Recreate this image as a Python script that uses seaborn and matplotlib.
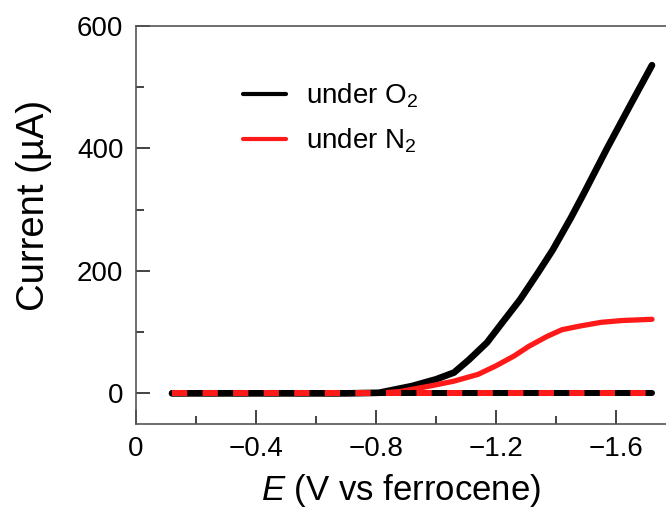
# LSV curves under O2 / N2
import matplotlib
matplotlib.use('Agg')
import matplotlib.pyplot as plt
import seaborn as sns
from matplotlib.ticker import FuncFormatter, MultipleLocator

# data (E in V vs Fc, current in uA)
E_o2 = [-0.12, -0.40, -0.70, -0.81, -0.92, -1.00, -1.06, -1.11, -1.17, -1.22,
        -1.28, -1.34, -1.39, -1.45, -1.49, -1.57, -1.65, -1.72]
I_o2 = [0, 0, 0, 1, 12, 23, 34, 55, 83, 115, 153, 197, 235, 287, 324, 400, 473, 536]

E_n2 = [-0.16, -0.50, -0.80, -0.88, -0.98, -1.06, -1.14, -1.20, -1.26, -1.31,
        -1.37, -1.42, -1.48, -1.55, -1.62, -1.72]
I_n2 = [0, 0, 0, 3, 12, 20, 31, 45, 61, 77, 93, 104, 110, 116, 119, 121]

# flat traces at zero current
E_base = [-0.12, -1.72]
I_base = [0, 0]

labels = ['under O$_2$', 'under N$_2$']

if __name__ == '__main__':
    sns.set_theme(style='ticks')
    plt.rcParams['font.family'] = ['Liberation Sans', 'DejaVu Sans']
    plt.rcParams['mathtext.fontset'] = 'custom'
    plt.rcParams['mathtext.rm'] = 'Liberation Sans'
    plt.rcParams['mathtext.it'] = 'Liberation Sans:italic'
    plt.rcParams['lines.scale_dashes'] = False
    plt.rcParams['text.color'] = 'black'
    plt.rcParams['axes.labelcolor'] = 'black'
    plt.rcParams['xtick.labelcolor'] = 'black'
    plt.rcParams['ytick.labelcolor'] = 'black'

    fig = plt.figure(figsize=(6.66, 5.23), dpi=100)
    ax = fig.add_axes([136 / 666, 1 - 424 / 523, 1 - 136 / 666, (424 - 26) / 523])

    sns.lineplot(x=E_o2, y=I_o2, color='black', lw=4.8, sort=False, label=labels[0], ax=ax)
    sns.lineplot(x=E_n2, y=I_n2, color='#ff1a1a', lw=3.8, sort=False, label=labels[1], ax=ax)
    # dashed baselines, red and black alternating
    sns.lineplot(x=E_base, y=I_base, color='black', lw=4.3, sort=False, legend=False, ax=ax)
    line_r = sns.lineplot(x=E_base, y=I_base, color='#ff1a1a', lw=4.3, sort=False,
                          legend=False, ax=ax).lines[-1]
    line_r.set_dashes((11, 11))
    line_r.set_solid_capstyle('butt')

    ax.set_xlim(0, -(666 - 136) / 300)
    ax.set_ylim(-50, 600)

    ax.xaxis.set_major_locator(MultipleLocator(0.4))
    ax.xaxis.set_minor_locator(MultipleLocator(0.2))
    ax.yaxis.set_major_locator(MultipleLocator(200))
    ax.yaxis.set_minor_locator(MultipleLocator(100))
    ax.xaxis.set_major_formatter(FuncFormatter(
        lambda v, p: '0' if abs(v) < 1e-9 else f'{v:.1f}'.replace('-', '\u2212')))

    spine_col = '#555555'
    for s in ['left', 'bottom', 'top']:
        ax.spines[s].set_color(spine_col)
        ax.spines[s].set_linewidth(1.2)
    ax.spines['right'].set_visible(False)

    ax.tick_params(which='both', direction='in', color='#222222', width=1.2,
                   labelsize=20, top=False, right=False)
    ax.tick_params(axis='y', which='major', length=10, pad=9)
    ax.tick_params(axis='y', which='minor', length=6)
    ax.tick_params(axis='x', which='major', length=10, pad=9)
    ax.tick_params(axis='x', which='minor', length=6)

    ax.set_xlabel('$E$ (V vs ferrocene)', fontsize=25, labelpad=7)
    ax.set_ylabel('Current (\u00b5A)', fontsize=27.5)
    ax.yaxis.set_label_coords(-0.158, 0.548)

    leg = ax.legend(loc='upper left', bbox_to_anchor=(243 / 666, 1 - 82 / 523),
                    bbox_transform=fig.transFigure, frameon=False, fontsize=20,
                    handlelength=1.55, handletextpad=0.7, labelspacing=0.57,
                    borderpad=0, borderaxespad=0)
    for ln in leg.get_lines():
        ln.set_linewidth(3)

    fig.savefig('out.png', dpi=100)
